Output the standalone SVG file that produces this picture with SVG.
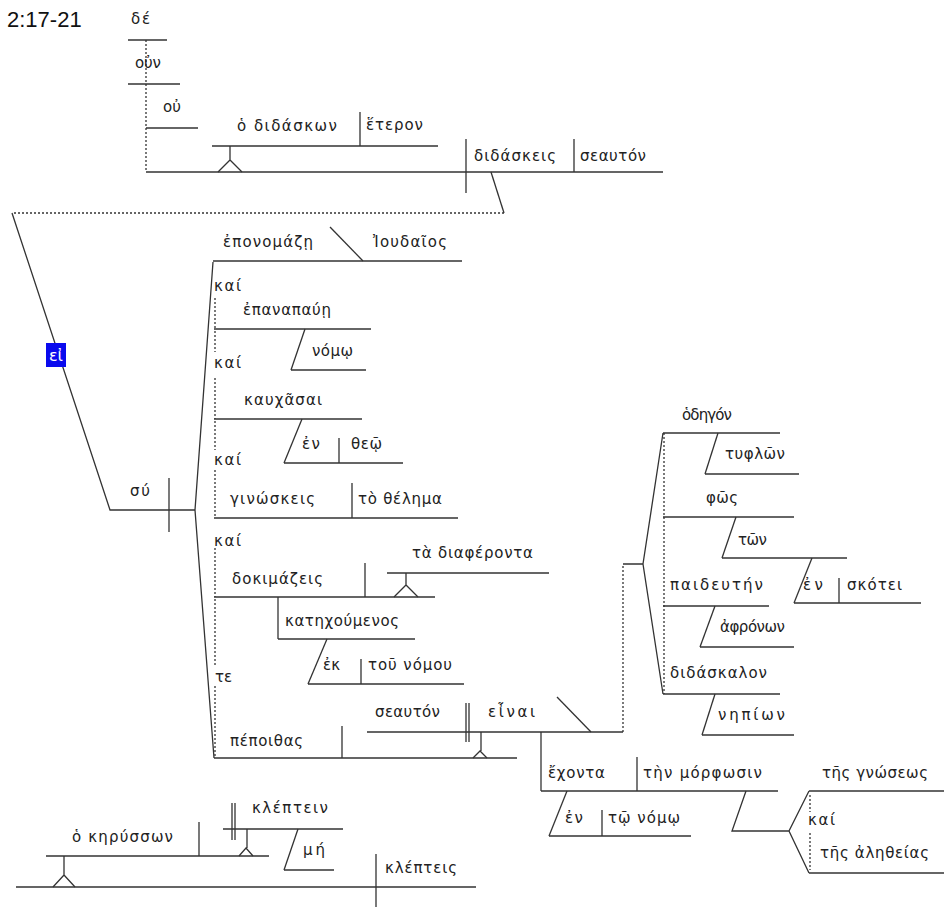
<svg xmlns="http://www.w3.org/2000/svg" width="944" height="907" viewBox="0 0 944 907">
<style>
.t{font-family:"DejaVu Sans","Noto Sans",sans-serif;font-size:15px;fill:#222}
.ttl{font-family:"Liberation Sans",Arial,sans-serif;font-size:22px;fill:#111}
.l{stroke:#333;stroke-width:1.3;fill:none}
.d{stroke:#333;stroke-width:1.3;fill:none;stroke-dasharray:2 2}
.box{fill:#0a0aee}
.w{font-family:"DejaVu Sans","Noto Sans",sans-serif;font-size:16px;fill:#fff}
</style>
<rect width="944" height="907" fill="#fff"/>
<text class="ttl" x="7" y="27">2:17-21</text>

<g id="connectors">
  <path class="d" d="M146,40 V172"/>
  <path class="l" d="M491,172 L504,213"/>
  <path class="d" d="M504,213 H12"/>
  <path class="l" d="M12,213 L110,510 H195"/>
  <path class="l" d="M213,262 L195,510 L214,758"/>
  <path class="d" d="M215,298 V329 M215,331 V352 M215,378 V419 M215,421 V450 M215,470 V518 M215,548 V597 M215,599 V665 M215,686 V757"/>
  <path class="l" d="M330,227 L363,261"/>
  <path class="l" d="M305,329 L291,370"/>
  <path class="l" d="M302,419 L284,463"/>
  <path class="l" d="M278,597 V639"/>
  <path class="l" d="M327,639 L308,684"/>
  <path class="l" d="M557,697 L591,732"/>
  <path class="d" d="M623,732 V564"/>
  <path class="l" d="M623,564 H643 M663,433 L643,564 L663,694"/>
  <path class="d" d="M664,433 V694"/>
  <path class="l" d="M718,433 L705,474"/>
  <path class="l" d="M736,517 L722,558"/>
  <path class="l" d="M812,558 L794,603"/>
  <path class="l" d="M715,606 L700,647"/>
  <path class="l" d="M715,694 L702,735"/>
  <path class="l" d="M541,732 V791"/>
  <path class="l" d="M567,791 L549,836"/>
  <path class="l" d="M746,791 L732,831 H789 M809,791 L789,831 L809,873"/>
  <path class="d" d="M810,795 V812 M810,833 V870"/>
  <path class="l" d="M298,829 L284,870"/>
</g>

<g id="n-de"><path class="l" d="M128,40 H167"/><text class="t" x="131" y="24" textLength="19">δέ</text></g>
<g id="n-oun"><path class="l" d="M128,84 H180"/><text class="t" x="135" y="68" textLength="26">οὐν</text></g>
<g id="n-ou"><path class="l" d="M146,128 H198"/><text class="t" x="163" y="112" textLength="18">οὐ</text></g>
<g id="n-clause1">
  <path class="l" d="M146,172 H663 M466,139 V193 M574,139 V172"/>
  <text class="t" x="474" y="161" textLength="82">διδάσκεις</text>
  <text class="t" x="580" y="161" textLength="66">σεαυτόν</text>
</g>
<g id="n-didaskon">
  <path class="l" d="M212,146 H438 M360,112 V146 M230,146 V160 M218,172 L230,160 L242,172"/>
  <text class="t" x="237" y="131" textLength="100">ὁ διδάσκων</text>
  <text class="t" x="366" y="130" textLength="57">ἕτερον</text>
</g>
<g id="n-ei">
  <rect class="box" x="46" y="343" width="20" height="24"/>
  <text class="w" x="56" y="361" text-anchor="middle">εἰ</text>
</g>
<g id="n-su">
  <path class="l" d="M169,478 V532"/>
  <text class="t" x="130" y="496" textLength="20">σύ</text>
</g>
<g id="n-eponomaze">
  <path class="l" d="M213,261 H462"/>
  <text class="t" x="223" y="247" textLength="90">ἐπονομάζῃ</text>
  <text class="t" x="373" y="247" textLength="74">Ἰουδαῖος</text>
</g>
<g id="n-kai1"><text class="t" x="214" y="291" textLength="27">καί</text></g>
<g id="n-epanapaue">
  <path class="l" d="M214,329 H371"/>
  <text class="t" x="243" y="315" textLength="88">ἐπαναπαύῃ</text>
</g>
<g id="n-nomo">
  <path class="l" d="M291,370 H366"/>
  <text class="t" x="312" y="356" textLength="41">νόμῳ</text>
</g>
<g id="n-kai2"><text class="t" x="214" y="368" textLength="27">καί</text></g>
<g id="n-kauchasai">
  <path class="l" d="M214,419 H362"/>
  <text class="t" x="244" y="405" textLength="78">καυχᾶσαι</text>
</g>
<g id="n-en-theo">
  <path class="l" d="M284,463 H403 M339,438 V463"/>
  <text class="t" x="302" y="449" textLength="18">ἐν</text>
  <text class="t" x="351" y="449" textLength="31">θεῷ</text>
</g>
<g id="n-kai3"><text class="t" x="214" y="465" textLength="27">καί</text></g>
<g id="n-ginoskeis">
  <path class="l" d="M214,518 H458 M352,483 V518"/>
  <text class="t" x="230" y="504" textLength="85">γινώσκεις</text>
  <text class="t" x="358" y="504" textLength="84">τὸ θέλημα</text>
</g>
<g id="n-kai4"><text class="t" x="214" y="546" textLength="27">καί</text></g>
<g id="n-dokimazeis">
  <path class="l" d="M214,597 H435 M365,563 V597"/>
  <text class="t" x="232" y="584" textLength="91">δοκιμάζεις</text>
</g>
<g id="n-diapheronta">
  <path class="l" d="M387,573 H549 M406,573 V585 M394,597 L406,585 L418,597"/>
  <text class="t" x="412" y="558" textLength="121">τὰ διαφέροντα</text>
</g>
<g id="n-katechoumenos">
  <path class="l" d="M278,639 H415"/>
  <text class="t" x="285" y="626" textLength="114">κατηχούμενος</text>
</g>
<g id="n-ek-nomou">
  <path class="l" d="M308,684 H464 M361,659 V684"/>
  <text class="t" x="323" y="670" textLength="17">ἐκ</text>
  <text class="t" x="368" y="670" textLength="84">τοῦ νόμου</text>
</g>
<g id="n-te"><text class="t" x="215" y="682" textLength="17">τε</text></g>
<g id="n-pepoithas">
  <path class="l" d="M214,758 H517 M342,726 V758"/>
  <text class="t" x="230" y="746" textLength="73">πέποιθας</text>
</g>
<g id="n-einai">
  <path class="l" d="M367,732 H623 M466,703 V742 M469,703 V742 M481,732 V751 M473,758 L480,751 L487,758"/>
  <text class="t" x="375" y="717" textLength="65">σεαυτόν</text>
  <text class="t" x="488" y="717" textLength="47">εἶναι</text>
</g>
<g id="n-echonta">
  <path class="l" d="M541,791 H778 M637,757 V791"/>
  <text class="t" x="548" y="778" textLength="57">ἔχοντα</text>
  <text class="t" x="643" y="778" textLength="119">τὴν μόρφωσιν</text>
</g>
<g id="n-en-nomo">
  <path class="l" d="M549,836 H691 M602,810 V836"/>
  <text class="t" x="565" y="823" textLength="18">ἐν</text>
  <text class="t" x="608" y="823" textLength="72">τῷ νόμῳ</text>
</g>
<g id="n-gnoseos">
  <path class="l" d="M809,791 H944"/>
  <text class="t" x="822" y="778" textLength="106">τῆς γνώσεως</text>
</g>
<g id="n-kai5"><text class="t" x="808" y="825" textLength="27">καί</text></g>
<g id="n-aletheias">
  <path class="l" d="M809,873 H944"/>
  <text class="t" x="820" y="858" textLength="109">τῆς ἀληθείας</text>
</g>
<g id="n-hodegon">
  <path class="l" d="M663,433 H780"/>
  <text class="t" x="682" y="420" textLength="50">ὁδηγόν</text>
</g>
<g id="n-typhlon">
  <path class="l" d="M705,474 H799"/>
  <text class="t" x="725" y="459" textLength="60">τυφλῶν</text>
</g>
<g id="n-phos">
  <path class="l" d="M663,517 H794"/>
  <text class="t" x="706" y="503" textLength="32">φῶς</text>
</g>
<g id="n-ton">
  <path class="l" d="M722,558 H847"/>
  <text class="t" x="738" y="545" textLength="29">τῶν</text>
</g>
<g id="n-en-skotei">
  <path class="l" d="M794,603 H921 M839,578 V603"/>
  <text class="t" x="803" y="590" textLength="20">ἐν</text>
  <text class="t" x="847" y="590" textLength="55">σκότει</text>
</g>
<g id="n-paideuten">
  <path class="l" d="M663,606 H769"/>
  <text class="t" x="670" y="590" textLength="93">παιδευτήν</text>
</g>
<g id="n-aphronon">
  <path class="l" d="M700,647 H794"/>
  <text class="t" x="720" y="632" textLength="65">ἀφρόνων</text>
</g>
<g id="n-didaskalon">
  <path class="l" d="M663,694 H780"/>
  <text class="t" x="670" y="678" textLength="97">διδάσκαλον</text>
</g>
<g id="n-nepion">
  <path class="l" d="M702,735 H794"/>
  <text class="t" x="718" y="720" textLength="67">νηπίων</text>
</g>
<g id="n-klepteis">
  <path class="l" d="M16,887 H476 M376,854 V907"/>
  <text class="t" x="385" y="873" textLength="72">κλέπτεις</text>
</g>
<g id="n-kerysson">
  <path class="l" d="M46,856 H269 M199,822 V856 M64,856 V875 M53,887 L64,875 L75,887"/>
  <text class="t" x="72" y="842" textLength="101">ὁ κηρύσσων</text>
</g>
<g id="n-kleptein">
  <path class="l" d="M223,829 H343 M232,803 V840 M235,803 V840 M247,829 V848 M239,856 L246,848 L253,856"/>
  <text class="t" x="252" y="813" textLength="76">κλέπτειν</text>
</g>
<g id="n-me">
  <path class="l" d="M284,870 H334"/>
  <text class="t" x="303" y="855" textLength="22">μή</text>
</g>
</svg>
